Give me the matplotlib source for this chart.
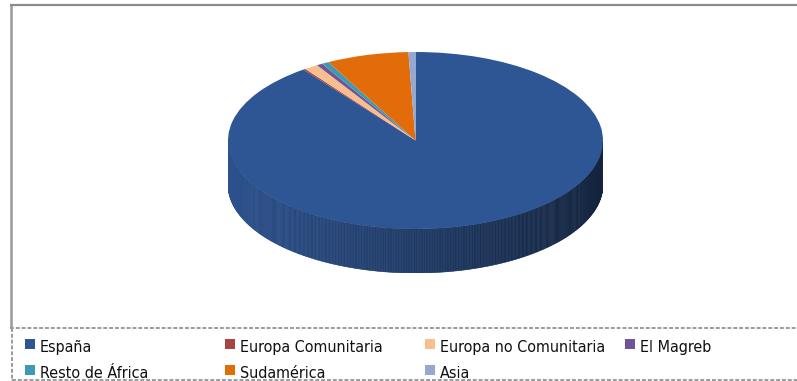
import numpy as np
import matplotlib
matplotlib.use("Agg")
import matplotlib.pyplot as plt
from matplotlib.patches import Polygon, Rectangle
from matplotlib.colors import to_rgb
from matplotlib import font_manager

labels = ["España", "Europa Comunitaria", "Europa no Comunitaria", "El Magreb",
          "Resto de África", "Sudamérica", "Asia"]
values = [89.8, 0.2, 1.2, 0.5, 0.6, 7.1, 0.6]
colors = ["#2E5594", "#A84442", "#F9BE8E", "#6F5597", "#3E9AB0", "#E36C0A", "#94A9D1"]

W, H = 797, 381

# look for a narrow / condensed face, the legend text is very condensed
narrow = [f.fname for f in font_manager.fontManager.ttflist
          if ("Narrow" in f.fname or "Condensed" in f.fname)
          and not any(k in f.fname for k in ("Bold", "Italic", "Oblique", "Mono", "Serif"))]
if narrow:
    legend_font = dict(fontproperties=font_manager.FontProperties(fname=sorted(narrow)[0], size=11.5))
else:
    legend_font = dict(fontproperties=font_manager.FontProperties(family="Liberation Sans", size=11))

fig = plt.figure(figsize=(W / 100, H / 100), dpi=100)

# background axes in pixel coordinates for frame and legend
bg = fig.add_axes([0, 0, 1, 1])
bg.set_xlim(0, W)
bg.set_ylim(H, 0)
bg.axis("off")
bg.plot([11, 11], [4, 328], color="#999999", lw=1.8, solid_capstyle="butt")
bg.plot([10, W], [5, 5], color="#8c8c8c", lw=1.6, solid_capstyle="butt")
bg.plot([10, W], [328, 328], color="#9a9a9a", lw=1.4, ls=(0, (2, 1)))
bg.plot([12, 12], [328, H], color="#9a9a9a", lw=1.4, ls=(0, (2, 1)))
bg.plot([12, W], [380, 380], color="#9a9a9a", lw=1.4, ls=(0, (2, 1)))

# legend, 4 columns
for i, (lab, col) in enumerate(zip(labels, colors)):
    x0 = 25 + 200 * (i % 4)
    yb = 352 + 26 * (i // 4)
    bg.add_patch(Rectangle((x0, yb - 13), 10, 10, facecolor=col, edgecolor="none"))
    bg.text(x0 + 15, yb, lab, va="baseline", ha="left", color="#111111", **legend_font)

# pie: top ellipse + shaded side wall
left, right, top, bottom = 228, 603, 52, 273
ax = fig.add_axes([left / W, (H - bottom) / H, (right - left) / W, (bottom - top) / H])
depth = 44 / 88.5

theta = np.radians(np.concatenate([[0], np.cumsum(values)]) / sum(values) * 360)
for i in range(len(values)):
    # only the front half of the wall is visible
    lo = max(theta[i], np.pi / 2)
    hi = min(theta[i + 1], 3 * np.pi / 2)
    if hi <= lo:
        continue
    t = np.linspace(lo, hi, max(2, int(np.degrees(hi - lo) * 2)) + 1)
    for ta, tb in zip(t[:-1], t[1:]):
        xa, ya = np.sin(ta), np.cos(ta)
        xb, yb = np.sin(tb), np.cos(tb)
        f = 0.95 - 0.53 * ((xa + xb) / 2 + 1) / 2
        c = np.array(to_rgb(colors[i])) * f
        ax.add_patch(Polygon([(xa, ya), (xb, yb), (xb, yb - depth), (xa, ya - depth)],
                             closed=True, facecolor=c, edgecolor=c, lw=0.4))

ax.pie(values, colors=colors, startangle=90, counterclock=False,
       wedgeprops=dict(linewidth=0))
ax.set_aspect("auto")
ax.set_xlim(-1, 1)
ax.set_ylim(-1 - depth, 1)
ax.axis("off")

fig.savefig("out.png", dpi=100)
